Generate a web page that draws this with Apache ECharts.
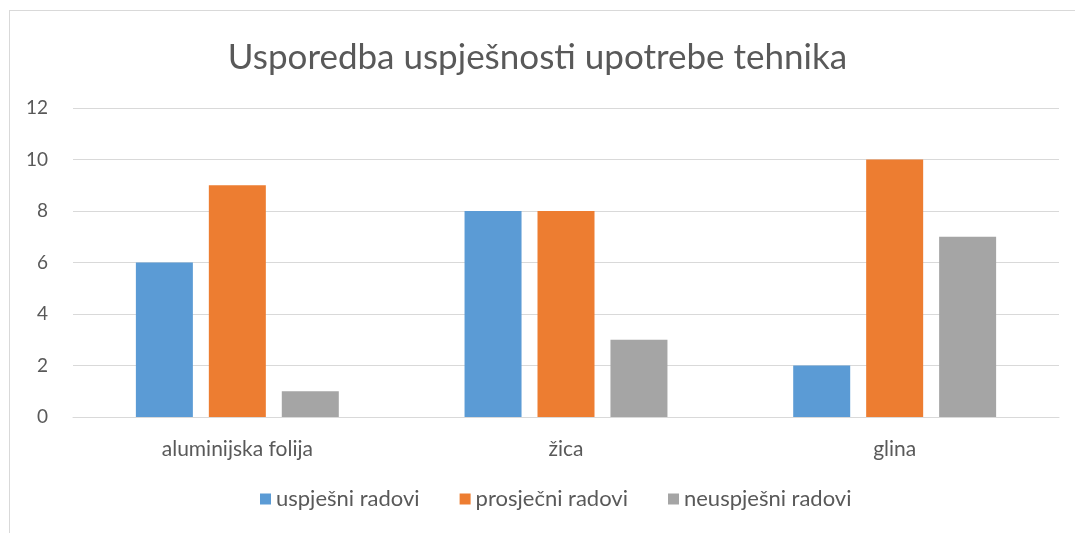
<!DOCTYPE html>
<html lang="hr">
<head>
    <meta charset="UTF-8"/>
    <title>Usporedba uspješnosti upotrebe tehnika</title>
    <script src="https://cdn.jsdelivr.net/npm/echarts@6/dist/echarts.min.js"></script>
    <style>
        body { margin: 0; background: #fff; }
        #frame { position: absolute; left: 9px; top: 10px; width: 1080px; height: 540px;
                 border: 1px solid #d9d9d9; }
        #main { position: absolute; left: 0; top: 0; width: 1075px; height: 533px; }
    </style>
</head>
<body>
<div id="frame"></div>
<div id="main"></div>

<script type="text/javascript">
    // podaci
    var categories = ['aluminijska folija', 'žica', 'glina'];
    var seriesNames = ['uspješni radovi', 'prosječni radovi', 'neuspješni radovi'];
    var uspjesni = [6, 8, 2];
    var prosjecni = [9, 8, 10];
    var neuspjesni = [1, 3, 7];
    var colors = ['#5B9BD5', '#ED7D31', '#A5A5A5'];

    var myChart = echarts.init(document.getElementById('main'));
    var font = 'Lato, "Open Sans", sans-serif';

    var values = [uspjesni, prosjecni, neuspjesni];
    var series = [];
    for (var i = 0; i < values.length; i++) {
        series.push({
            name: seriesNames[i],
            type: 'bar',
            data: values[i],
            barWidth: 57,
            barGap: '28%',
            itemStyle: { color: colors[i] }
        });
    }

    var option = {
        animation: false,
        textStyle: { fontFamily: font },
        title: {
            text: 'Usporedba uspješnosti upotrebe tehnika',
            left: 'center',
            top: 35,
            textStyle: { fontFamily: font, fontSize: 35, fontWeight: 'normal', color: '#595959' }
        },
        legend: {
            bottom: 18,
            left: 255,
            itemWidth: 11,
            itemHeight: 11,
            itemGap: 40,
            icon: 'rect',
            textStyle: { fontFamily: font, fontSize: 22, color: '#595959' },
            data: seriesNames
        },
        grid: { left: 73, right: 16, top: 108, bottom: 116, containLabel: false },
        xAxis: {
            type: 'category',
            data: categories,
            axisLine: { lineStyle: { color: '#d9d9d9', width: 1 } },
            axisTick: { show: false },
            axisLabel: { fontFamily: font, fontSize: 21, color: '#595959', margin: 22 }
        },
        yAxis: {
            type: 'value',
            min: 0,
            max: 12,
            interval: 2,
            axisLine: { show: false },
            axisTick: { show: false },
            splitLine: { lineStyle: { color: '#d9d9d9', width: 1 } },
            axisLabel: { fontFamily: font, fontSize: 19, color: '#595959', margin: 25 }
        },
        series: series
    };

    myChart.setOption(option);
</script>
</body>
</html>
